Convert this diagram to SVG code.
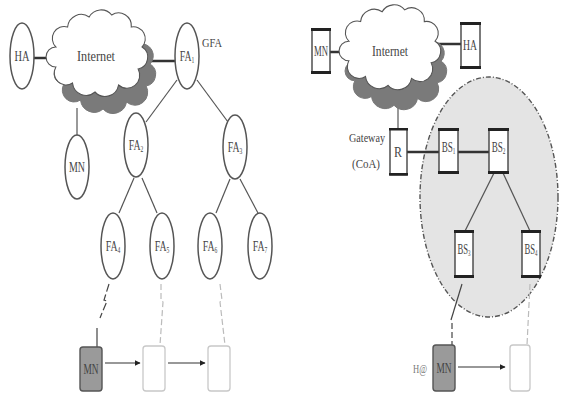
<svg xmlns="http://www.w3.org/2000/svg" width="561" height="394" viewBox="0 0 561 394">
<defs>
<path id="cloud" d="M8,40 A12,12 0 0 1 20,20 A14,14 0 0 1 42,10 A14,14 0 0 1 65,8 A13,13 0 0 1 85,20 A12,12 0 0 1 96,40 A12,12 0 0 1 92,62 A13,13 0 0 1 72,78 A14,14 0 0 1 48,85 A14,14 0 0 1 25,76 A12,12 0 0 1 8,60 A10,10 0 0 1 8,40 Z"/>
<marker id="arr" viewBox="0 0 10 10" refX="9" refY="5" markerWidth="6" markerHeight="6" orient="auto" markerUnits="userSpaceOnUse">
<path d="M0,0 L10,5 L0,10 Z" fill="#222"/>
</marker>
</defs>
<style>
text{font-family:"Liberation Serif","DejaVu Serif",serif;fill:#444}
.ell{fill:#fff;stroke:#555;stroke-width:1.5}
.cw{fill:#fff;stroke:#555;stroke-width:1.1}
.cs{fill:#7a7a7a;stroke:#777;stroke-width:1}
.thick{stroke:#333;stroke-width:2.5;fill:none}
.tree{stroke:#555;stroke-width:1.2;fill:none}
.wl{stroke:#444;stroke-width:1.2;fill:none;stroke-dasharray:6,3}
.wlight{stroke:#bbb;stroke-width:1.2;fill:none;stroke-dasharray:6,3}
.solidw{stroke:#444;stroke-width:1.2;fill:none}
.arrow{stroke:#333;stroke-width:1.2;fill:none;marker-end:url(#arr)}
.box{fill:#fff;stroke:#444;stroke-width:1.4}
.bar{fill:#222}
.mn{fill:#9a9a9a;stroke:#555;stroke-width:1.4}
.ghost{fill:#fff;stroke:#c8c8c8;stroke-width:1.3}
</style>
<rect width="561" height="394" fill="#fff"/>

<g id="domain">
<ellipse cx="489" cy="197" rx="69" ry="120" fill="#e4e4e4" stroke="#555" stroke-width="1.4" stroke-dasharray="5,2,1,2"/>
</g>

<g id="connectors">
<line class="thick" x1="33" y1="58" x2="56" y2="58"/>
<line class="thick" x1="140" y1="61" x2="175" y2="61"/>
<line class="tree" x1="77" y1="108" x2="77" y2="135"/>
<line class="tree" x1="177" y1="80" x2="146" y2="122"/>
<line class="tree" x1="197" y1="80" x2="228" y2="122"/>
<line class="tree" x1="134" y1="178" x2="119" y2="213"/>
<line class="tree" x1="142" y1="178" x2="157" y2="213"/>
<line class="tree" x1="230" y1="179" x2="216" y2="213"/>
<line class="tree" x1="240" y1="179" x2="258" y2="213"/>
<path class="solidw" d="M109,284 L104,300 L107,301 L100,318" stroke-dasharray="8,3"/>
<line class="solidw" x1="97" y1="328" x2="97" y2="347"/>
<path class="wlight" d="M161,284 L161,300 L163,302 L160,345"/>
<path class="wlight" d="M220,284 L222,300 L220,302 L225,345"/>
<line class="arrow" x1="105" y1="363" x2="140" y2="363"/>
<line class="arrow" x1="168" y1="363" x2="205" y2="363"/>
<line class="thick" x1="330" y1="52" x2="348" y2="52"/>
<line class="thick" x1="436" y1="44" x2="461" y2="44"/>
<line class="tree" x1="398" y1="100" x2="398" y2="129"/>
<line class="thick" x1="407" y1="152" x2="439" y2="152"/>
<line class="thick" x1="458" y1="152" x2="489" y2="152"/>
<line class="tree" x1="494" y1="173" x2="465" y2="231"/>
<line class="tree" x1="503" y1="173" x2="530" y2="231"/>
<line class="solidw" x1="462" y1="284" x2="451" y2="320"/>
<line class="wl" x1="452" y1="323" x2="452" y2="345"/>
<line class="wlight" x1="530" y1="284" x2="527" y2="345"/>
<line class="arrow" x1="458" y1="367" x2="505" y2="367"/>
</g>

<g id="internet-left">
<use href="#cloud" class="cs" transform="translate(56,24) scale(0.98,1)"/>
<use href="#cloud" class="cw" transform="translate(48,7) scale(0.98,1)"/>
<text x="96" y="61" font-size="14" text-anchor="middle" textLength="38" lengthAdjust="spacingAndGlyphs">Internet</text>
</g>
<g id="ha-left"><ellipse class="ell" cx="22" cy="56" rx="12" ry="33"/><text x="22" y="61" font-size="14" text-anchor="middle" textLength="15" lengthAdjust="spacingAndGlyphs">HA</text></g>
<g id="fa1"><ellipse class="ell" cx="187" cy="56" rx="12" ry="33"/><text transform="translate(187,61) scale(0.7,1)" font-size="14" text-anchor="middle">FA<tspan font-size="8" dy="2">1</tspan></text><text x="212" y="47" font-size="13" text-anchor="middle" textLength="20" lengthAdjust="spacingAndGlyphs">GFA</text></g>
<g id="mn-left"><ellipse class="ell" cx="77" cy="167" rx="12" ry="32"/><text x="77" y="172" font-size="14" text-anchor="middle" textLength="16" lengthAdjust="spacingAndGlyphs">MN</text></g>
<g id="fa2"><ellipse class="ell" cx="136" cy="145" rx="12" ry="32"/><text transform="translate(136,150) scale(0.7,1)" font-size="14" text-anchor="middle">FA<tspan font-size="8" dy="2">2</tspan></text></g>
<g id="fa3"><ellipse class="ell" cx="235" cy="147" rx="12" ry="32"/><text transform="translate(235,152) scale(0.7,1)" font-size="14" text-anchor="middle">FA<tspan font-size="8" dy="2">3</tspan></text></g>
<g id="fa4"><ellipse class="ell" cx="113" cy="246" rx="12" ry="33"/><text transform="translate(113,251) scale(0.7,1)" font-size="14" text-anchor="middle">FA<tspan font-size="8" dy="2">4</tspan></text></g>
<g id="fa5"><ellipse class="ell" cx="162" cy="246" rx="12" ry="33"/><text transform="translate(162,251) scale(0.7,1)" font-size="14" text-anchor="middle">FA<tspan font-size="8" dy="2">5</tspan></text></g>
<g id="fa6"><ellipse class="ell" cx="210" cy="246" rx="12" ry="33"/><text transform="translate(210,251) scale(0.7,1)" font-size="14" text-anchor="middle">FA<tspan font-size="8" dy="2">6</tspan></text></g>
<g id="fa7"><ellipse class="ell" cx="260" cy="246" rx="12" ry="33"/><text transform="translate(260,251) scale(0.7,1)" font-size="14" text-anchor="middle">FA<tspan font-size="8" dy="2">7</tspan></text></g>
<g id="mn-l1"><rect class="mn" x="80" y="347" width="22" height="44" rx="3"/><text x="91" y="374" font-size="14" text-anchor="middle" textLength="15" lengthAdjust="spacingAndGlyphs">MN</text></g>
<g id="mn-l2"><rect class="ghost" x="143" y="346" width="22" height="45" rx="3"/></g>
<g id="mn-l3"><rect class="ghost" x="208" y="346" width="22" height="45" rx="3"/></g>

<g id="internet-right">
<use href="#cloud" class="cs" transform="translate(347,22) scale(0.98,0.98)"/>
<use href="#cloud" class="cw" transform="translate(341,2) scale(0.98,0.98)"/>
<text x="390" y="56" font-size="14" text-anchor="middle" textLength="36" lengthAdjust="spacingAndGlyphs">Internet</text>
</g>
<g id="mn-right"><rect class="box" x="312" y="29" width="18" height="44"/><rect class="bar" x="311" y="28" width="20" height="3"/><rect class="bar" x="311" y="71" width="20" height="3"/><text x="321" y="56" font-size="14" text-anchor="middle" textLength="14" lengthAdjust="spacingAndGlyphs">MN</text></g>
<g id="ha-right"><rect class="box" x="461" y="23" width="19" height="45"/><rect class="bar" x="460" y="22" width="21" height="3"/><rect class="bar" x="460" y="66" width="21" height="3"/><text x="470" y="50" font-size="14" text-anchor="middle" textLength="14" lengthAdjust="spacingAndGlyphs">HA</text></g>
<g id="gateway"><rect class="box" x="390" y="129" width="17" height="46"/><rect class="bar" x="389" y="128" width="19" height="2.5"/><rect class="bar" x="389" y="173" width="19" height="2.5"/><text x="398" y="157" font-size="14" text-anchor="middle" textLength="8" lengthAdjust="spacingAndGlyphs">R</text>
<text x="367" y="142" font-size="13" text-anchor="middle" textLength="36" lengthAdjust="spacingAndGlyphs">Gateway</text><text x="366" y="168" font-size="13" text-anchor="middle" textLength="28" lengthAdjust="spacingAndGlyphs">(CoA)</text></g>
<g id="bs1"><rect class="box" x="439" y="129" width="19" height="44"/><rect class="bar" x="438" y="128" width="21" height="3"/><rect class="bar" x="438" y="171" width="21" height="3"/><text transform="translate(448.5,152) scale(0.65,1)" font-size="14" text-anchor="middle">BS<tspan font-size="8" dy="2">1</tspan></text></g>
<g id="bs2"><rect class="box" x="489" y="129" width="19" height="44"/><rect class="bar" x="488" y="128" width="21" height="3"/><rect class="bar" x="488" y="171" width="21" height="3"/><text transform="translate(498.5,152) scale(0.65,1)" font-size="14" text-anchor="middle">BS<tspan font-size="8" dy="2">2</tspan></text></g>
<g id="bs3"><rect class="box" x="455" y="231" width="18" height="46"/><rect class="bar" x="454" y="230" width="20" height="3"/><rect class="bar" x="454" y="275" width="20" height="3"/><text transform="translate(464,254) scale(0.62,1)" font-size="14" text-anchor="middle">BS<tspan font-size="8" dy="2">3</tspan></text></g>
<g id="bs4"><rect class="box" x="522" y="231" width="18" height="46"/><rect class="bar" x="521" y="230" width="20" height="3"/><rect class="bar" x="521" y="275" width="20" height="3"/><text transform="translate(531,254) scale(0.62,1)" font-size="14" text-anchor="middle">BS<tspan font-size="8" dy="2">4</tspan></text></g>
<g id="mn-r1"><rect class="mn" x="433" y="345" width="22" height="46" rx="3"/><text x="444" y="373" font-size="14" text-anchor="middle" textLength="15" lengthAdjust="spacingAndGlyphs">MN</text><text x="420" y="373" font-size="13" style="fill:#777" text-anchor="middle" textLength="14" lengthAdjust="spacingAndGlyphs">H@</text></g>
<g id="mn-r2"><rect class="ghost" x="510" y="345" width="20" height="46" rx="3"/></g>
</svg>
